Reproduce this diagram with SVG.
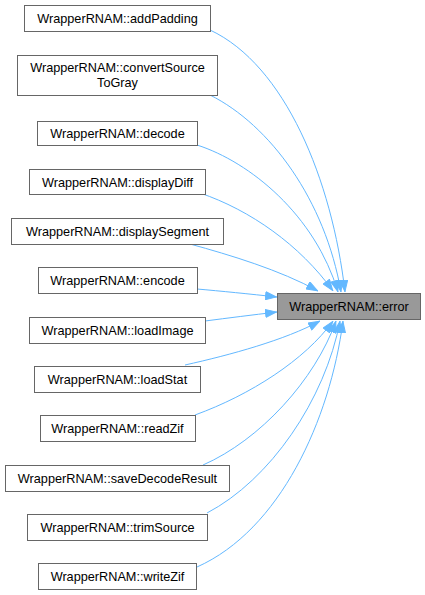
<svg xmlns="http://www.w3.org/2000/svg" width="425" height="595" viewBox="0 0 425 595">
<style>
.n rect{fill:#ffffff;stroke:#666666;stroke-width:1}
.n text{font-family:"Liberation Sans",Arial,sans-serif;font-size:12.7px;fill:#000000;text-anchor:middle}
#error rect{fill:#999999}
.e path{fill:none;stroke:#63b8ff;stroke-width:1}
</style>
<defs>
<marker id="ah" viewBox="0 0 12 9" refX="12" refY="4.5" markerWidth="12" markerHeight="9" markerUnits="userSpaceOnUse" orient="auto">
<path d="M0.5,0.5 L11.5,4.5 L0.5,8.5 z" fill="#63b8ff" stroke="#63b8ff" stroke-width="1"/>
</marker>
</defs>
<rect width="425" height="595" fill="#ffffff"/>
<g id="edges" class="e">
<path marker-end="url(#ah)" d="M210,30 C285,65 332,180 345,292"/>
<path marker-end="url(#ah)" d="M210,95 C270,125 325,200 341,292"/>
<path marker-end="url(#ah)" d="M197,145 C250,162 315,215 338,292"/>
<path marker-end="url(#ah)" d="M200,193 C250,210 300,245 333,291"/>
<path marker-end="url(#ah)" d="M190,244 C230,255 280,270 318,291"/>
<path marker-end="url(#ah)" d="M197,289 C220,291 250,294 277,297"/>
<path marker-end="url(#ah)" d="M205,321 C228,318 252,315 277,312"/>
<path marker-end="url(#ah)" d="M185,365 C230,355 285,340 320,321"/>
<path marker-end="url(#ah)" d="M195,415 C250,395 305,360 333,321"/>
<path marker-end="url(#ah)" d="M203,465 C260,440 315,380 336,321"/>
<path marker-end="url(#ah)" d="M207,513 C270,480 325,400 340,321"/>
<path marker-end="url(#ah)" d="M197,567 C280,530 330,420 343,321"/>
</g>
<g id="error" class="n"><rect x="277.5" y="293.5" width="143" height="26"/><text x="349" y="311">WrapperRNAM::error</text></g>
<g id="addPadding" class="n"><rect x="24.5" y="5.5" width="186" height="26"/><text x="117.5" y="23">WrapperRNAM::addPadding</text></g>
<g id="convertSourceToGray" class="n"><rect x="17.5" y="55.5" width="200" height="40"/><text x="117.5" y="72">WrapperRNAM::convertSource</text><text x="117.5" y="87">ToGray</text></g>
<g id="decode" class="n"><rect x="37.5" y="121.5" width="160" height="24"/><text x="117.5" y="138">WrapperRNAM::decode</text></g>
<g id="displayDiff" class="n"><rect x="29.5" y="169.5" width="176" height="25"/><text x="117.5" y="186.5">WrapperRNAM::displayDiff</text></g>
<g id="displaySegment" class="n"><rect x="11.5" y="218.5" width="212" height="26"/><text x="117.5" y="236">WrapperRNAM::displaySegment</text></g>
<g id="encode" class="n"><rect x="38.5" y="267.5" width="159" height="26"/><text x="117.5" y="285">WrapperRNAM::encode</text></g>
<g id="loadImage" class="n"><rect x="29.5" y="317.5" width="176" height="26"/><text x="117.5" y="335">WrapperRNAM::loadImage</text></g>
<g id="loadStat" class="n"><rect x="34.5" y="366.5" width="166" height="26"/><text x="117.5" y="384">WrapperRNAM::loadStat</text></g>
<g id="readZif" class="n"><rect x="40.5" y="415.5" width="155" height="26"/><text x="117.5" y="433">WrapperRNAM::readZif</text></g>
<g id="saveDecodeResult" class="n"><rect x="5.5" y="465.5" width="224" height="26"/><text x="117.5" y="483">WrapperRNAM::saveDecodeResult</text></g>
<g id="trimSource" class="n"><rect x="27.5" y="514.5" width="180" height="26"/><text x="117.5" y="532">WrapperRNAM::trimSource</text></g>
<g id="writeZif" class="n"><rect x="38.5" y="563.5" width="158" height="26"/><text x="117.5" y="581">WrapperRNAM::writeZif</text></g>
</svg>
